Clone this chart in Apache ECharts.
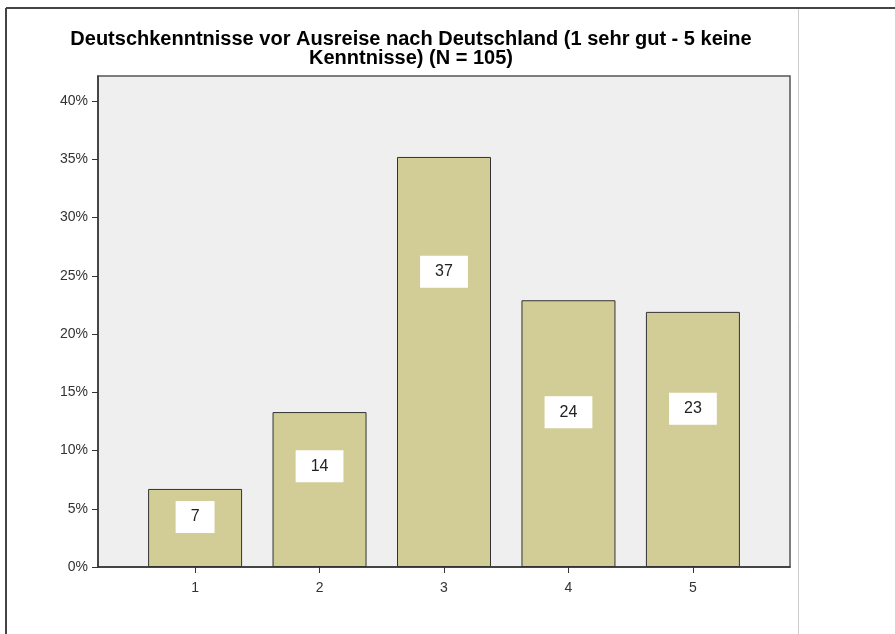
<!DOCTYPE html>
<html>
<head>
<meta charset="utf-8">
<script src="https://cdn.jsdelivr.net/npm/echarts@6/dist/echarts.min.js"></script>
<style>
  html, body { margin: 0; padding: 0; background: #fff; }
  #chart { width: 895px; height: 634px; }
</style>
</head>
<body>
<div id="chart"></div>
<script>
// data
const categories = [1, 2, 3, 4, 5];
const counts = [7, 14, 37, 24, 23];
const percents = [6.7, 13.3, 35.2, 22.9, 21.9];
const yTicks = [0, 5, 10, 15, 20, 25, 30, 35, 40];

// where the count box sits inside each bar (from the top)
const labelPos = ['36%', '35%', '28%', '42%', '38%'];

(function () {
  const el = document.getElementById('chart');
  const chart = echarts.init(el, null, { renderer: 'canvas' });
  const font = 'Arial, "Liberation Sans", sans-serif';

  const barData = categories.map((c, i) => ({
    value: [c, percents[i]],
    label: { position: ['50%', labelPos[i]] }
  }));

  chart.setOption({
    animation: false,
    textStyle: { fontFamily: font },
    title: {
      text: 'Deutschkenntnisse vor Ausreise nach Deutschland (1 sehr gut - 5 keine\nKenntnisse) (N = 105)',
      left: 406, top: 25, textAlign: 'center',
      textStyle: { fontFamily: font, fontSize: 20, fontWeight: 'bold', color: '#000', lineHeight: 19 }
    },
    grid: {
      left: 98, top: 76, right: 105, bottom: 67,
      show: true, backgroundColor: '#efefef', borderColor: '#555', borderWidth: 1.5
    },
    xAxis: {
      type: 'value', min: 0.22, max: 5.78,
      splitLine: { show: false },
      axisLine: { show: true, lineStyle: { color: '#333', width: 1.5 } },
      axisTick: { show: true, length: 6, customValues: categories, lineStyle: { color: '#333' } },
      axisLabel: { customValues: categories, color: '#333', fontSize: 14, margin: 14, fontFamily: font }
    },
    yAxis: {
      type: 'value', min: 0, max: 42.15, interval: 5,
      splitLine: { show: false },
      axisLine: { show: true, lineStyle: { color: '#333', width: 1.5 } },
      axisTick: { show: true, length: 6, customValues: yTicks, lineStyle: { color: '#333' } },
      axisLabel: {
        customValues: yTicks, color: '#333', fontSize: 14, margin: 10, fontFamily: font,
        formatter: v => v + '%'
      }
    },
    series: [{
      type: 'bar',
      data: barData,
      barWidth: 94,
      itemStyle: { color: '#d2cd96', borderColor: '#333', borderWidth: 1 },
      label: {
        show: true,
        align: 'center', verticalAlign: 'middle',
        formatter: p => String(counts[p.dataIndex]),
        backgroundColor: '#fff', padding: [8, 15],
        color: '#222', fontSize: 16, fontFamily: font
      }
    }],
    graphic: [
      { type: 'line', shape: { x1: 6, y1: 8, x2: 895, y2: 8 }, style: { stroke: '#444', lineWidth: 2 } },
      { type: 'line', shape: { x1: 6, y1: 8, x2: 6, y2: 634 }, style: { stroke: '#444', lineWidth: 2 } },
      { type: 'line', shape: { x1: 798.5, y1: 9, x2: 798.5, y2: 634 }, style: { stroke: '#ccc', lineWidth: 1 } }
    ]
  });

  window.addEventListener('resize', () => chart.resize());
})();
</script>
</body>
</html>
